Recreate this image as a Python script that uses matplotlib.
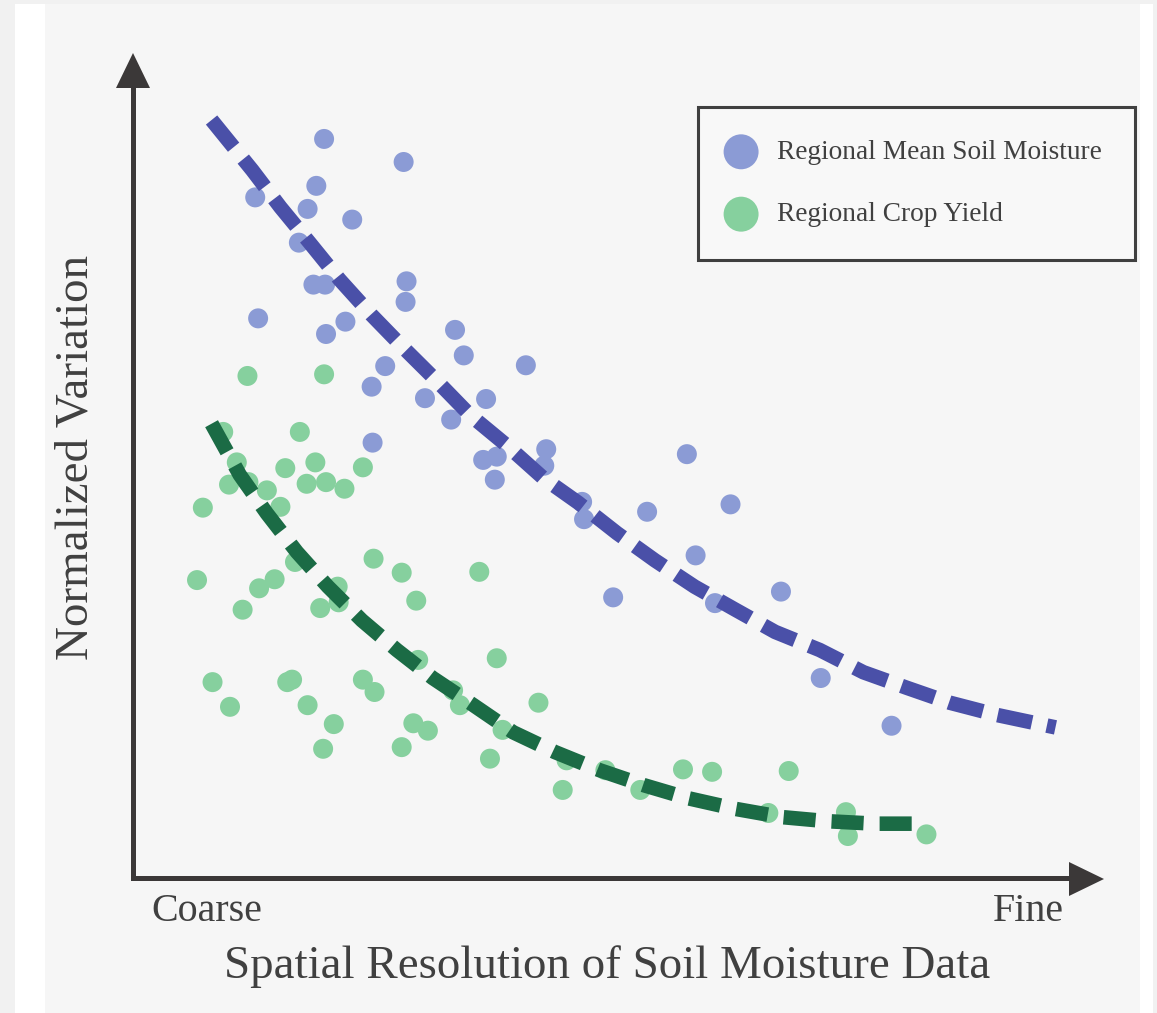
import matplotlib
matplotlib.use("Agg")
import matplotlib.pyplot as plt
from matplotlib.transforms import Affine2D
from matplotlib.patches import Rectangle, Polygon
from matplotlib.lines import Line2D

# ---------------- data (x: coarse -> fine, 0-100 ; y: normalized variation, 0-100)
moisture_x = [19.7, 27.9, 18.9, 12.6, 18.0, 22.6, 17.1, 18.6, 19.8, 28.2, 28.1, 12.9, 21.9,
              19.9, 33.2, 34.1, 40.5, 26.0, 24.6, 30.1, 36.4, 32.8, 24.7, 36.1, 37.5, 42.6,
              42.4, 37.3, 57.1, 46.3, 46.5, 53.0, 61.6, 58.0, 49.5, 60.0, 66.8, 70.9, 78.2]
moisture_y = [89.8, 87.0, 84.1, 82.7, 81.3, 80.0, 77.2, 72.1, 72.1, 72.5, 70.0, 68.0, 67.6,
              66.1, 66.6, 63.5, 62.3, 62.2, 59.7, 58.3, 58.2, 55.7, 52.9, 50.8, 51.2, 52.1,
              50.1, 48.4, 51.5, 45.7, 43.6, 44.5, 45.4, 39.2, 34.1, 33.4, 34.8, 24.3, 18.5]

yield_x = [9.3, 17.2, 10.7, 15.7, 18.8, 23.7, 9.9, 11.9, 13.8, 17.9, 19.9, 21.8, 7.2, 15.2,
           16.7, 6.6, 13.0, 14.6, 11.3, 19.3, 21.1, 21.2, 24.8, 27.7, 29.2, 35.7, 29.4, 37.5,
           8.2, 10.0, 15.9, 16.4, 23.7, 24.9, 18.0, 20.7, 19.6, 28.9, 30.4, 27.7, 33.0, 33.7,
           38.1, 41.8, 36.8, 44.7, 11.8, 19.7, 44.3, 48.7, 52.3, 56.7, 59.7, 67.6, 65.5,
           73.5, 73.7, 81.8]
yield_y = [54.2, 54.2, 50.5, 49.8, 50.5, 49.9, 47.8, 48.1, 47.1, 47.9, 48.1, 47.3, 45.0, 45.1,
           38.4, 36.2, 35.2, 36.3, 32.6, 32.8, 35.4, 33.5, 38.8, 37.1, 33.7, 37.2, 26.5, 26.7,
           23.8, 20.8, 23.8, 24.1, 24.1, 22.6, 21.0, 18.7, 15.7, 18.8, 17.9, 15.9, 22.8, 21.0,
           18.0, 21.3, 14.5, 14.3, 61.0, 61.2, 10.7, 13.1, 10.7, 13.2, 12.9, 13.0, 7.9,
           8.0, 5.1, 5.3]

# trend curves
moisture_trend_x = [8.1, 12.3, 15.2, 18.2, 21.3, 24.6, 27.9, 31.4, 34.7, 38.6, 42.3, 45.9,
                    49.9, 53.8, 57.9, 62.1, 66.2, 70.8, 75.3, 79.8, 84.2, 89.1, 95.1]
moisture_trend_y = [92.1, 86.0, 81.5, 77.2, 72.7, 68.4, 64.4, 60.3, 56.3, 52.5, 48.6, 45.6,
                    41.9, 38.6, 35.4, 32.6, 29.9, 27.7, 25.0, 23.1, 21.3, 19.8, 18.3]
yield_trend_x = [8.1, 11.0, 13.8, 16.9, 20.1, 23.6, 27.2, 30.9, 35.1, 39.2, 43.5, 48.1,
                 52.6, 57.2, 62.1, 66.9, 71.6, 76.5, 81.6]
yield_trend_y = [55.2, 49.0, 44.3, 39.6, 35.4, 31.3, 27.7, 24.3, 21.0, 17.7, 15.3, 13.1,
                 11.3, 9.7, 8.4, 7.4, 6.9, 6.6, 6.6]

series_labels = ["Regional Mean Soil Moisture", "Regional Crop Yield"]
x_tick_labels = ["Coarse", "Fine"]
x_title = "Spatial Resolution of Soil Moisture Data"
y_title = "Normalized Variation"

# ---------------- style
W, H = 1157, 1013
FONT = ["Liberation Serif", "DejaVu Serif"]
plt.rcParams["font.family"] = FONT
BLUE_PT = "#8b9bd5"
GREEN_PT = "#86d09e"
BLUE_LN = "#4a50a8"
GREEN_LN = "#1b6b45"
AXIS_C = "#3b3838"
TEXT_C = "#404040"

fig = plt.figure(figsize=(W / 100, H / 100), dpi=100)
fig.patch.set_facecolor("#f1f1f1")
pix = Affine2D().scale(1 / W, -1 / H).translate(0, 1) + fig.transFigure

# background panels
fig.patches.append(Rectangle((15, 4), 1138, 1020, transform=pix, facecolor="white",
                             edgecolor="none", zorder=-3))
fig.patches.append(Rectangle((45, 4), 1095, 1020, transform=pix, facecolor="#f6f6f6",
                             edgecolor="none", zorder=-2))

ax = fig.add_axes([133 / W, (H - 878) / H, 970 / W, 823 / H])
ax.set_xlim(0, 100)
ax.set_ylim(0, 100)
ax.axis("off")

ax.scatter(moisture_x, moisture_y, s=207, color=BLUE_PT, edgecolors="none",
           clip_on=False, zorder=2, label=series_labels[0])
ax.scatter(yield_x, yield_y, s=207, color=GREEN_PT, edgecolors="none",
           clip_on=False, zorder=2, label=series_labels[1])
ax.plot(moisture_trend_x, moisture_trend_y, color=BLUE_LN, lw=10.5, dashes=(2.4, 1.05),
        dash_capstyle="butt", dash_joinstyle="round", clip_on=False, zorder=3)
ax.plot(yield_trend_x, yield_trend_y, color=GREEN_LN, lw=10.5, dashes=(2.2, 1.1),
        dash_capstyle="butt", dash_joinstyle="round", clip_on=False, zorder=3)

# axis arrows
fig.add_artist(Line2D([133, 133, 1072], [86, 878, 878], transform=pix, color=AXIS_C,
                      lw=3.6, solid_joinstyle="miter", solid_capstyle="projecting"))
fig.add_artist(Polygon([[133, 53], [116, 88], [150, 88]], closed=True, transform=pix,
                       facecolor=AXIS_C, edgecolor="none"))
fig.add_artist(Polygon([[1104, 879], [1069, 862], [1069, 896]], closed=True, transform=pix,
                       facecolor=AXIS_C, edgecolor="none"))

# texts
fig.text(151, 921, x_tick_labels[0], transform=pix, fontsize=28.8, color=TEXT_C,
         ha="left", va="baseline")
fig.text(1064, 921, x_tick_labels[1], transform=pix, fontsize=28.8, color=TEXT_C,
         ha="right", va="baseline")
fig.text(607, 978, x_title, transform=pix, fontsize=33.8, color=TEXT_C,
         ha="center", va="baseline")
fig.text(88, 457, y_title, transform=pix, fontsize=33.8, color=TEXT_C, rotation=90,
         rotation_mode="anchor", ha="center", va="baseline")

# legend
leg = ax.legend(loc="upper left", bbox_to_anchor=(698 / W, 1 - 107 / H),
                bbox_transform=fig.transFigure, fontsize=19.7, markerscale=1.75,
                frameon=True, fancybox=False, borderpad=1.2, labelspacing=1.36,
                handlelength=0.75, handletextpad=0.95, borderaxespad=0,
                scatterpoints=1)
frame = leg.get_frame()
frame.set_edgecolor("#3f3f3f")
frame.set_linewidth(2.2)
frame.set_facecolor("#f8f8f8")
frame.set_alpha(1)
for t in leg.get_texts():
    t.set_color(TEXT_C)

fig.savefig("out.png", dpi=100, facecolor=fig.get_facecolor())
